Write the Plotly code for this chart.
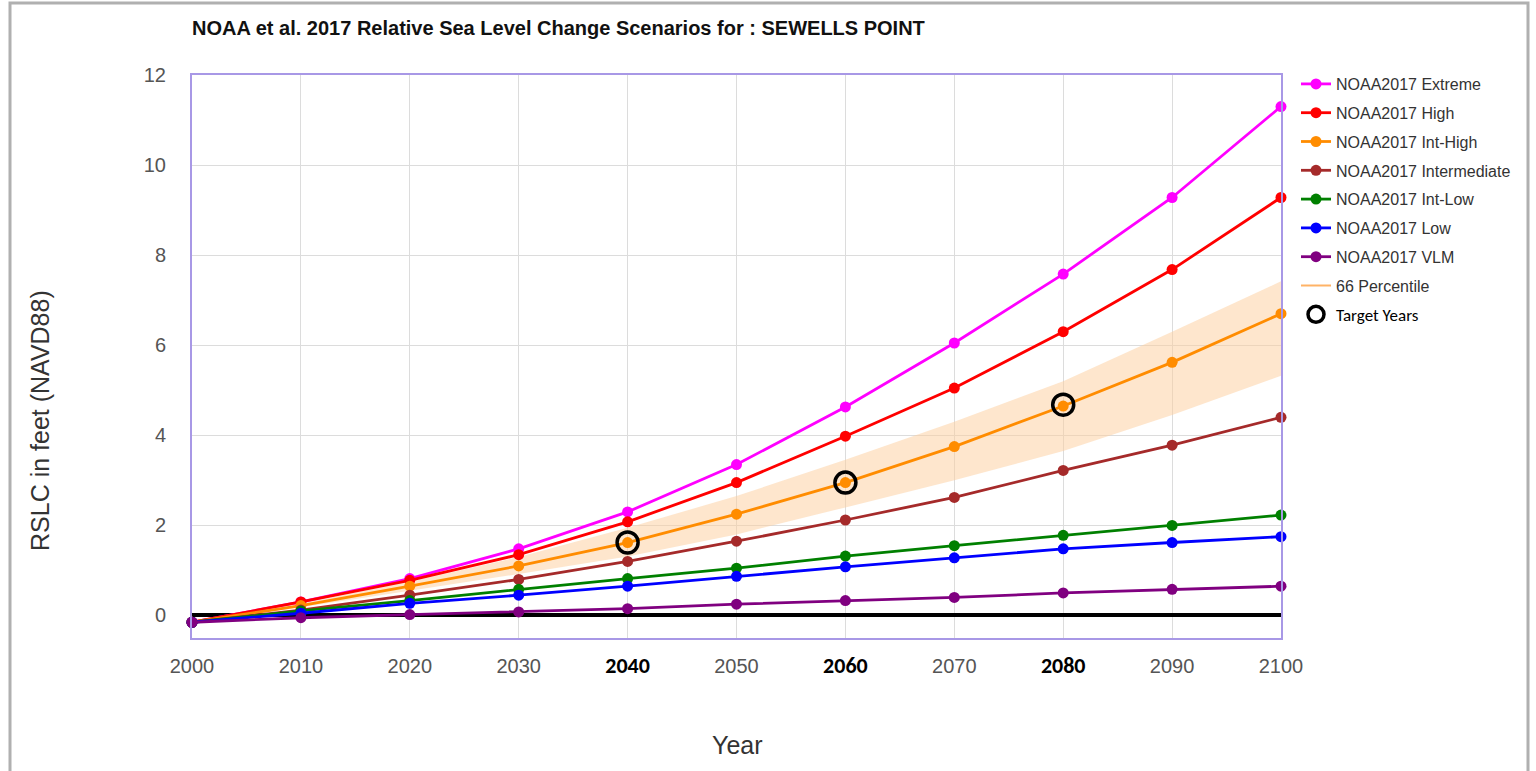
import plotly.graph_objects as go

years = [2000, 2010, 2020, 2030, 2040, 2050, 2060, 2070, 2080, 2090, 2100]

extreme = [-0.15, 0.30, 0.82, 1.48, 2.30, 3.35, 4.63, 6.05, 7.58, 9.28, 11.30]
high = [-0.15, 0.30, 0.78, 1.35, 2.08, 2.95, 3.98, 5.05, 6.30, 7.68, 9.28]
int_high = [-0.15, 0.22, 0.65, 1.10, 1.62, 2.25, 2.95, 3.75, 4.65, 5.62, 6.70]
intermediate = [-0.15, 0.12, 0.45, 0.80, 1.20, 1.65, 2.12, 2.62, 3.22, 3.78, 4.40]
int_low = [-0.15, 0.10, 0.33, 0.58, 0.82, 1.05, 1.32, 1.55, 1.78, 2.00, 2.23]
low = [-0.15, 0.05, 0.27, 0.45, 0.65, 0.87, 1.08, 1.28, 1.48, 1.62, 1.75]
vlm = [-0.15, -0.05, 0.02, 0.08, 0.15, 0.25, 0.33, 0.40, 0.50, 0.58, 0.65]

band_lower = [-0.15, 0.18, 0.55, 0.92, 1.31, 1.80, 2.40, 3.00, 3.65, 4.45, 5.32]
band_upper = [-0.15, 0.27, 0.75, 1.30, 1.95, 2.65, 3.46, 4.30, 5.20, 6.30, 7.42]

target_years = [2040, 2060, 2080]
target_values = [1.62, 2.95, 4.68]

bold_years = {2040, 2060, 2080}
x_ticktext = [
    (f"<span style='font-family:Carlito, \"Liberation Sans Narrow\", Arial;font-size:22px;fill:#000000'><b>{y}</b></span>"
     if y in bold_years else str(y))
    for y in years
]

series = [
    ("NOAA2017 Extreme", extreme, "#ff00ff"),
    ("NOAA2017 High", high, "#ff0000"),
    ("NOAA2017 Int-High", int_high, "#ff8c00"),
    ("NOAA2017 Intermediate", intermediate, "#a52a2a"),
    ("NOAA2017 Int-Low", int_low, "#008000"),
    ("NOAA2017 Low", low, "#0000ff"),
    ("NOAA2017 VLM", vlm, "#800080"),
]

# plot area in page pixels: x 192..1281, y 75..638
W, H = 1536, 771
PL, PR, PT, PB = 192, 1281, 75, 638
PW, PH = PR - PL, PB - PT


def px(x):
    return (x - PL) / PW


def py(y):
    return (PB - y) / PH


fig = go.Figure()

fig.add_trace(go.Scatter(x=years, y=band_lower, mode="lines", line=dict(width=0, color="rgba(0,0,0,0)"),
                         showlegend=False, hoverinfo="skip"))
fig.add_trace(go.Scatter(x=years, y=band_upper, mode="lines", line=dict(width=0, color="rgba(0,0,0,0)"),
                         fill="tonexty", fillcolor="rgba(253,205,155,0.5)", showlegend=False, hoverinfo="skip"))

for i, (name, vals, col) in enumerate(series):
    fig.add_trace(go.Scatter(
        x=years, y=vals, mode="lines+markers", name=name,
        line=dict(color=col, width=2.8), marker=dict(color=col, size=11),
        cliponaxis=False, legendgroup=f"g{i}", legendrank=i + 1,
    ))

fig.add_trace(go.Scatter(x=[None], y=[None], mode="lines", name="66 Percentile",
                         line=dict(color="#ffb366", width=2), legendgroup="g7", legendrank=8))

fig.add_trace(go.Scatter(
    x=target_years, y=target_values, mode="markers",
    name="<span style='font-family:Carlito, \"Liberation Sans Narrow\", Arial;font-size:17px;fill:#000000'>Target Years</span>",
    marker=dict(symbol="circle-open", size=21, color="black", line=dict(width=3.5, color="black")),
    cliponaxis=False, legendgroup="g8", legendrank=9,
))

fig.update_layout(
    width=W, height=H,
    margin=dict(l=PL, r=W - PR, t=PT, b=H - PB),
    paper_bgcolor="white", plot_bgcolor="white",
    font=dict(family="Liberation Sans, Arial", color="#444", size=16),
    title=dict(text="<b>NOAA et al. 2017 Relative Sea Level Change Scenarios for : SEWELLS POINT</b>",
               x=PL / W, xanchor="left", y=1 - 28 / H, yanchor="middle",
               font=dict(size=20, color="#111", family="Liberation Sans, Arial")),
    legend=dict(x=px(1296), y=py(67), xanchor="left", yanchor="top", font=dict(size=16, color="#333"),
                tracegroupgap=5, bgcolor="rgba(0,0,0,0)"),
    showlegend=True,
)

fig.update_xaxes(
    range=[2000, 2100], tickvals=years, ticktext=x_ticktext,
    showgrid=True, gridcolor="#dcdcdc", gridwidth=1,
    showline=True, linecolor="#a898e6", linewidth=2, mirror=True,
    tickfont=dict(size=20, color="#555"), ticks="", ticklabelstandoff=9,
    zeroline=False,
)
fig.update_yaxes(
    range=[-0.5, 12], tickvals=[0, 2, 4, 6, 8, 10, 12],
    showgrid=True, gridcolor="#dcdcdc", gridwidth=1,
    showline=True, linecolor="#a898e6", linewidth=2, mirror=True,
    tickfont=dict(size=20, color="#555"), ticks="", ticklabelstandoff=20,
    zeroline=True, zerolinecolor="black", zerolinewidth=3.5,
)

fig.add_annotation(text="RSLC in feet (NAVD88)", textangle=-90, xref="paper", yref="paper",
                   x=px(40), y=py(420), xanchor="center", yanchor="middle", showarrow=False,
                   font=dict(size=25, color="#333"))
fig.add_annotation(text="Year", xref="paper", yref="paper",
                   x=px(737), y=py(745), xanchor="center", yanchor="middle", showarrow=False,
                   font=dict(size=25, color="#333"))

# outer frame
fig.add_shape(type="rect", xref="paper", yref="paper",
              x0=px(10), x1=px(1528), y0=py(800), y1=py(3),
              line=dict(color="#b0b0b0", width=3), fillcolor="rgba(0,0,0,0)", layer="below")

fig.write_html("out.html", config={"displayModeBar": False},
               post_script="document.body.style.margin='0';document.body.style.overflow='hidden';")
